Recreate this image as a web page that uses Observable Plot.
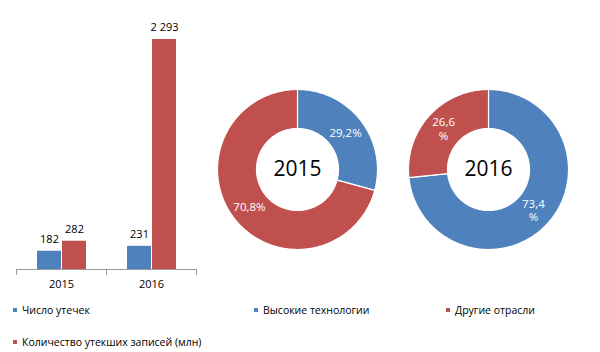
<!DOCTYPE html>
<html><head><meta charset="utf-8">
<script src="https://cdn.jsdelivr.net/npm/d3@7"></script>
<script src="https://cdn.jsdelivr.net/npm/@observablehq/plot@0.6"></script>
<style>
body{margin:0;background:#fff;font-family:"Open Sans",sans-serif;}
#root{position:relative;width:600px;height:352px;overflow:hidden;background:#fff;}
.abs{position:absolute;}
.leg{position:absolute;height:14px;font-size:10.5px;color:#000;white-space:nowrap;display:flex;align-items:center;}
.leg i{display:inline-block;width:4px;height:4px;margin-right:5px;}
</style></head><body><div id="root"></div>
<script>
// ---- data ----
const years = ["2015", "2016"];
const series = ["Число утечек", "Количество утекших записей (млн)"];
const leaks = [182, 231];
const records = [282, 2293];
const sectors = ["Высокие технологии", "Другие отрасли"];
const share2015 = [29.2, 70.8];
const share2016 = [73.4, 26.6];
const labels2015 = ["29,2%", "70,8%"];
const labels2016 = ["73,4\n%", "26,6\n%"];
const colors = ["#4F81BD", "#C0504D"];

const root = document.getElementById("root");
function place(node, left, top) {
  node.classList.add("abs");
  node.style.left = left + "px";
  node.style.top = top + "px";
  root.appendChild(node);
}

// ---- bar chart ----
const barData = years.flatMap((yr, i) => [
  {year: yr, series: series[0], value: leaks[i]},
  {year: yr, series: series[1], value: records[i]}
]);
const fmt = d3.formatLocale({decimal: ",", thousands: "\u00a0", grouping: [3], currency: ["", ""]}).format(",");
const BW = 200, BH = 300, MT = 39, MB = 31;
const bar = Plot.plot({
  width: BW, height: BH, marginLeft: 16, marginRight: 4, marginTop: MT, marginBottom: MB,
  style: {fontFamily: "Open Sans", fontSize: "11px", background: "transparent", color: "#000"},
  fx: {domain: years, paddingInner: 0, paddingOuter: 0, label: null},
  x: {domain: series, paddingInner: 0.05, paddingOuter: 0.78, axis: null},
  y: {domain: [0, d3.max(records)], axis: null},
  color: {domain: series, range: colors},
  marks: [
    Plot.barY(barData, {fx: "year", x: "series", y: "value", fill: "series"}),
    Plot.text(barData, {fx: "year", x: "series", y: "value", text: d => fmt(d.value), dy: -12, fontSize: 11, fill: "#000"}),
    Plot.ruleY([0], {stroke: "#999"}),
    Plot.frame({anchor: "left", stroke: "#999", insetTop: BH - MT - MB, insetBottom: -5}),
    Plot.frame({anchor: "right", stroke: "#999", insetTop: BH - MT - MB, insetBottom: -5}),
    Plot.axisFx({anchor: "bottom", tickSize: 0, tickPadding: 11, fontSize: 11, fill: "#000", label: null})
  ]
});
place(bar, 0, 0);

// ---- donuts ----
function donut(values, labels, year) {
  const r0 = 41 / 80;
  const arcs = d3.pie().sort(null)(values);
  const pts = [];
  arcs.forEach((a, i) => {
    const span = a.endAngle - a.startAngle;
    const n = Math.max(2, Math.ceil(span / 0.02));
    for (let k = 0; k <= n; k++) {
      const t = a.startAngle + span * k / n;
      pts.push({s: sectors[i], x: Math.sin(t), y: Math.cos(t)});
    }
    for (let k = n; k >= 0; k--) {
      const t = a.startAngle + span * k / n;
      pts.push({s: sectors[i], x: r0 * Math.sin(t), y: r0 * Math.cos(t)});
    }
  });
  const cents = arcs.map((a, i) => {
    const t = (a.startAngle + a.endAngle) / 2, rr = (1 + r0) / 2;
    return {x: rr * Math.sin(t), y: rr * Math.cos(t), label: labels[i]};
  });
  return Plot.plot({
    width: 164, height: 164, margin: 2,
    style: {fontFamily: "Open Sans", background: "transparent"},
    x: {domain: [-1, 1], axis: null},
    y: {domain: [-1, 1], axis: null},
    color: {domain: sectors, range: colors},
    marks: [
      Plot.line(pts, {x: "x", y: "y", z: "s", fill: "s", stroke: "#fff", strokeWidth: 1.2, curve: "linear-closed"}),
      Plot.text(cents, {x: "x", y: "y", text: "label", fill: "#fff", fontSize: 11.5, lineHeight: 1.2}),
      Plot.text([year], {text: d => d, frameAnchor: "middle", fontSize: 21, fill: "#000"})
    ]
  });
}
place(donut(share2015, labels2015, years[0]), 215, 87);
place(donut(share2016, labels2016, years[1]), 406, 87);

// ---- legends ----
function legend(text, color, left, cy) {
  const d = document.createElement("div");
  d.className = "leg";
  d.style.left = left + "px";
  d.style.top = (cy - 7) + "px";
  const sq = document.createElement("i");
  sq.style.background = color;
  d.appendChild(sq);
  d.appendChild(document.createTextNode(text));
  root.appendChild(d);
}
legend(series[0], colors[0], 13, 309.5);
legend(series[1], colors[1], 13, 342);
legend(sectors[0], colors[0], 254, 310);
legend(sectors[1], colors[1], 446, 310);
</script></body></html>
